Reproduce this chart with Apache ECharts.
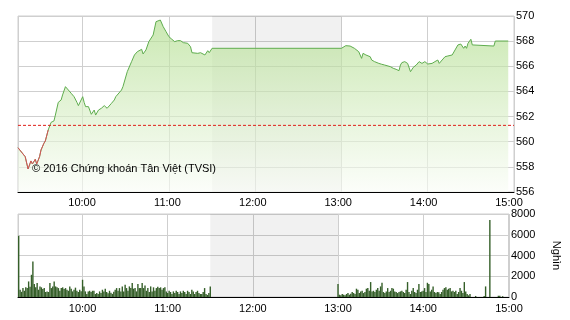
<!DOCTYPE html>
<html>
<head>
<meta charset="utf-8">
<script src="https://cdn.jsdelivr.net/npm/echarts@6/dist/echarts.min.js"></script>
<style>html,body{margin:0;padding:0;background:#fff}#c{width:570px;height:320px}</style>
</head>
<body>
<div id="c"></div>
<script>
const priceTimes = ['09:15','09:20','09:22','09:24','09:25','09:27','09:28','09:30','09:31','09:33','09:34','09:36','09:38','09:40','09:41','09:43','09:45','09:46','09:48','09:49','09:52','09:54','09:56','09:57','10:00','10:01','10:02','10:04','10:06','10:08','10:09','10:11','10:13','10:15','10:17','10:20','10:22','10:23','10:27','10:28','10:31','10:34','10:36','10:38','10:41','10:42','10:44','10:46','10:49','10:51','10:52','10:54','10:56','10:58','11:00','11:02','11:04','11:06','11:08','11:10','11:13','11:15','11:16','11:20','11:22','11:25','11:27','11:28','11:30','13:00','13:03','13:06','13:09','13:12','13:14','13:15','13:17','13:20','13:21','13:23','13:26','13:28','13:30','13:31','13:34','13:36','13:38','13:40','13:41','13:42','13:44','13:46','13:48','13:49','13:50','13:52','13:54','13:56','13:58','14:00','14:03','14:05','14:07','14:08','14:10','14:12','14:14','14:17','14:19','14:21','14:23','14:25','14:26','14:27','14:28','14:30','14:31','14:32','14:46','14:47','14:56'];
const priceValues = [559.52,558.81,557.83,558.47,558.23,558.60,558.23,558.81,559.34,559.87,560.06,560.93,561.54,561.65,562.12,563.13,563.32,563.72,564.38,564.30,563.85,563.58,563.13,562.87,563.58,563.13,562.79,562.79,562.18,562.52,562.12,562.52,562.66,562.87,562.66,563.05,563.32,563.58,564.11,564.38,565.57,566.37,566.90,567.16,567.35,566.98,567.30,567.96,568.49,569.55,569.42,569.68,569.15,568.75,568.35,568.15,567.96,568.04,568.04,567.88,567.83,567.56,567.08,567.03,567.08,566.90,567.24,567.08,567.43,567.43,567.64,567.61,567.43,567.16,566.63,567.03,566.90,566.76,566.50,566.37,566.23,566.16,566.10,565.97,565.97,565.84,565.76,565.65,566.10,566.29,566.37,566.23,565.57,565.70,565.92,566.10,566.37,566.23,566.37,566.18,566.23,566.37,566.50,566.23,566.50,566.76,566.82,566.90,567.30,567.70,567.77,567.43,567.61,567.43,567.83,568.15,567.70,567.61,567.61,568.01,568.01];
const referencePrice = 561.3;
const referenceTimes = ['09:15','15:00'];

// volume (thousand shares) per minute
const morningStart = '09:15';
const morningVolume = [
 5900,700,500,860,600,930,860,1500,1000,2140,
 3420,1250,930,1340,700,1020,930,770,860,480,
 540,480,1340,860,1020,1500,1020,930,860,600,
 860,930,770,860,700,600,1020,800,540,700,
 900,600,480,700,560,1660,1020,540,290,540,
 600,480,600,600,290,380,290,540,380,700,
 540,800,480,350,600,420,300,500,700,860,
 600,860,540,1020,540,1180,860,600,1020,860,
 1340,800,860,540,1250,860,860,1340,860,1120,
 600,860,480,1020,540,930,600,860,1000,860,
 930,700,860,930,540,380,600,480,290,540,
 380,600,480,290,540,380,600,480,290,600,
 480,290,700,540,290,480,600,380,290,290,
 480,860,300,200,380,1020];
const afternoonStart = '13:00';
const afternoonVolume = [
 1250,220,160,290,220,160,290,380,220,320,
 480,380,290,800,700,380,540,600,380,480,
 800,860,600,1440,540,600,480,700,860,600,
 1020,1370,480,380,540,860,480,600,860,800,
 540,480,380,480,540,600,480,380,700,1440,
 480,290,600,860,480,380,700,1250,480,540,
 600,860,480,1370,1250,540,700,1020,480,380,
 480,450,290,480,700,860,930,700,800,860,
 540,600,480,600,290,480,860,600,380,1440,
 540,290,160,300,0,0,0,100,0,0,
 0,0,0,100,1020,0,0,7420,0,0,
 0,0,0,120,120,0,80];

const priceTicks = [556,558,560,562,564,566,568,570];
const volumeTicks = [0,2000,4000,6000,8000];
const breakStart = '11:30', breakEnd = '13:00';
const axisStart = '09:15', axisEnd = '15:00';
const copyrightText = '© 2016 Chứng khoán Tân Việt (TVSI)';
const volumeUnit = 'Nghìn';

function ts(hm){const p=hm.split(':');return Date.UTC(2016,0,4,+p[0],+p[1]);}
const priceData = priceTimes.map((t,i)=>[ts(t),priceValues[i]]);
// portion of the line below the reference price (drawn red)
const belowData = priceData.filter(d=>d[0] <= ts('09:36'));
const refData = referenceTimes.map(t=>[ts(t),referencePrice]);
const volData = [];
morningVolume.forEach((v,i)=>volData.push([ts(morningStart)+i*60000,v]));
afternoonVolume.forEach((v,i)=>volData.push([ts(afternoonStart)+i*60000,v]));

const FONT = 'Liberation Sans, Arial, sans-serif';
const lbl = {color:'#000',fontSize:11,fontFamily:FONT};
const gridLine = {show:true,lineStyle:{color:'#cfcfcf',width:1}};
function timeAxis(gridIndex, extra){
  return Object.assign({
    type:'time', gridIndex, min:ts(axisStart), max:ts(axisEnd),
    minInterval:3600000, maxInterval:3600000,
    axisLine:{show:true,lineStyle:{color:'#000',width:1}},
    axisTick:{show:false},
    axisLabel:Object.assign({formatter:'{HH}:{mm}',margin:6,hideOverlap:false,showMinLabel:false,showMaxLabel:true},lbl),
    splitLine:gridLine
  }, extra||{});
}
const numFmt = v => String(v);

const chart = echarts.init(document.getElementById('c'),null,{renderer:'canvas'});
chart.setOption({
  useUTC:true,
  animation:false,
  backgroundColor:'#fff',
  title:{text:copyrightText,left:32,top:163,padding:0,textStyle:{fontSize:11,fontWeight:'normal',color:'#000',fontFamily:FONT}},
  grid:[
    {left:18,right:56,top:16,height:176,show:true,borderColor:'#cfcfcf',borderWidth:1,containLabel:false},
    {left:18,right:56,top:214,height:83,show:true,borderColor:'#cfcfcf',borderWidth:1,containLabel:false}
  ],
  xAxis:[
    timeAxis(0,{axisLabel:{show:false}}),
    timeAxis(1,{position:'bottom'}),
    timeAxis(1,{position:'top',axisLine:{show:false},splitLine:{show:false}})
  ],
  yAxis:[
    {type:'value',gridIndex:0,position:'right',min:priceTicks[0],max:priceTicks[priceTicks.length-1],interval:2,
     axisLine:{show:false},axisTick:{show:false},axisLabel:Object.assign({margin:2,formatter:numFmt},lbl),splitLine:gridLine},
    {type:'value',gridIndex:1,position:'right',min:volumeTicks[0],max:volumeTicks[volumeTicks.length-1],interval:2000,
     axisLine:{show:false},axisTick:{show:false},axisLabel:Object.assign({margin:2,formatter:numFmt},lbl),splitLine:gridLine,
     name:volumeUnit,nameLocation:'middle',nameRotate:-90,nameGap:42,nameTextStyle:lbl}
  ],
  series:[
    {type:'line',xAxisIndex:0,yAxisIndex:0,data:[],z:1,silent:true,
     markArea:{silent:true,itemStyle:{color:'rgba(0,0,0,0.055)'},data:[[{xAxis:ts(breakStart)},{xAxis:ts(breakEnd)}]]}},
    {type:'line',xAxisIndex:0,yAxisIndex:0,data:priceData,showSymbol:false,z:3,silent:true,
     lineStyle:{width:1,color:'#5fad4e'},
     areaStyle:{color:new echarts.graphic.LinearGradient(0,0,0,1,[{offset:0,color:'rgba(176,221,140,0.95)'},{offset:1,color:'rgba(250,253,247,0.9)'}])}},
    {type:'line',xAxisIndex:0,yAxisIndex:0,data:belowData,showSymbol:false,z:4,silent:true,
     lineStyle:{width:1,color:'#d9505a'}},
    {type:'line',xAxisIndex:0,yAxisIndex:0,data:refData,showSymbol:false,z:5,silent:true,
     lineStyle:{width:1,color:'#e0201a',type:[3,2]}},
    {type:'line',xAxisIndex:1,yAxisIndex:1,data:[],z:1,silent:true,
     markArea:{silent:true,itemStyle:{color:'rgba(0,0,0,0.055)'},data:[[{xAxis:ts(breakStart)},{xAxis:ts(breakEnd)}]]}},
    {type:'bar',xAxisIndex:1,yAxisIndex:1,data:volData,barWidth:1.4,itemStyle:{color:'#355f29'},z:3,silent:true}
  ]
});
</script>
</body>
</html>
